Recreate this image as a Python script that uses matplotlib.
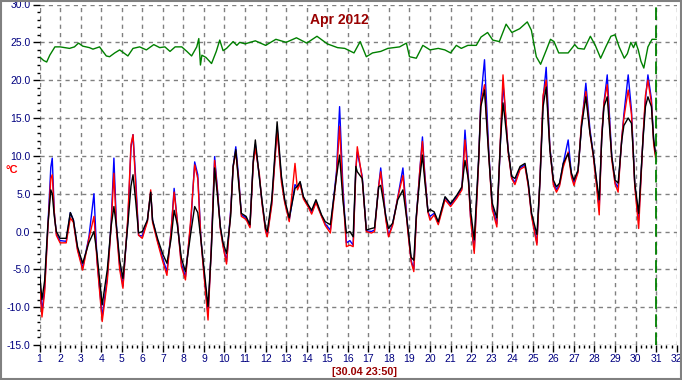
import numpy as np
import matplotlib
matplotlib.use("Agg")
import matplotlib.pyplot as plt
from matplotlib.ticker import MultipleLocator, FormatStrFormatter
from matplotlib.patches import Rectangle

plt.rcParams['font.family'] = ['Liberation Sans', 'DejaVu Sans']

# outdoor sensors: day of month (fractional) and readings in degC
t_out = [1.00, 1.12, 1.25, 1.40, 1.55, 1.62, 1.72, 1.82, 2.00, 2.30,
         2.50, 2.65, 2.85, 3.10, 3.40, 3.65, 3.80, 4.05, 4.30, 4.48,
         4.62, 4.75, 4.90, 5.06, 5.30, 5.45, 5.55, 5.68, 5.82, 6.00,
         6.25, 6.41, 6.50, 6.75, 7.00, 7.20, 7.40, 7.55, 7.70, 7.90,
         8.10, 8.37, 8.55, 8.70, 8.85, 8.96, 9.20, 9.36, 9.52, 9.65,
         9.80, 9.93, 10.10, 10.30, 10.42, 10.55, 10.70, 10.82, 11.05, 11.24,
         11.40, 11.50, 11.70, 11.82, 12.00, 12.08, 12.30, 12.56, 12.77, 12.93,
         13.15, 13.43, 13.55, 13.68, 13.84, 14.08, 14.24, 14.45, 14.72, 14.90,
         15.15, 15.45, 15.60, 15.76, 15.93, 16.10, 16.26, 16.39, 16.46, 16.70,
         16.90, 17.15, 17.30, 17.50, 17.60, 17.85, 17.98, 18.18, 18.43, 18.68,
         18.92, 19.08, 19.21, 19.33, 19.50, 19.63, 19.74, 19.90, 20.00, 20.20,
         20.40, 20.73, 21.00, 21.30, 21.55, 21.70, 21.87, 21.97, 22.15, 22.37,
         22.47, 22.65, 22.86, 23.02, 23.25, 23.43, 23.55, 23.63, 23.80, 23.97,
         24.13, 24.38, 24.62, 24.78, 24.94, 25.20, 25.35, 25.50, 25.65, 25.83,
         26.00, 26.15, 26.30, 26.48, 26.72, 26.88, 27.00, 27.20, 27.37, 27.58,
         27.78, 27.94, 28.10, 28.23, 28.35, 28.46, 28.62, 28.84, 29.00, 29.15,
         29.33, 29.43, 29.64, 29.80, 29.88, 29.96, 30.15, 30.36, 30.48, 30.60,
         30.77, 30.88, 30.97]

black = [-5.3, -9.0, -6.5, 0.6, 5.5, 5.0, 2.0, 0.0, -0.9, -0.9,
         2.5, 1.5, -2.0, -4.2, -1.5, 0.0, -3.0, -9.7, -5.0, 0.6,
         3.3, 0.5, -3.8, -6.2, 1.0, 6.0, 7.5, 4.0, -0.2, 0.0,
         1.5, 5.2, 1.5, -1.0, -3.0, -4.2, -1.0, 2.8, 1.0, -3.5,
         -5.3, 0.0, 3.3, 2.5, -1.0, -3.8, -9.9, -2.5, 8.4, 5.0,
         0.6, -1.5, -2.9, 2.0, 8.6, 10.8, 6.0, 2.4, 2.0, 0.9,
         9.4, 12.1, 7.0, 4.2, 0.4, 0.0, 4.2, 14.5, 7.3, 4.2,
         1.8, 5.7, 6.0, 6.6, 4.6, 3.5, 2.8, 4.2, 2.2, 1.3,
         0.9, 7.3, 10.1, 4.2, -0.2, 0.0, -0.7, 8.6, 7.9, 7.0,
         0.2, 0.4, 0.5, 5.9, 6.1, 2.0, 0.4, 1.1, 4.2, 5.5,
         0.6, -3.4, -3.8, 2.0, 7.0, 10.1, 6.8, 2.6, 2.9, 2.6,
         1.3, 4.6, 3.7, 4.8, 5.9, 9.4, 6.8, 2.8, -1.1, 9.9,
         16.5, 18.7, 9.8, 3.8, 1.8, 12.1, 17.0, 15.2, 10.8, 7.3,
         7.0, 8.6, 9.0, 6.4, 2.4, -0.4, 6.8, 16.5, 19.1, 10.8,
         6.8, 5.9, 6.4, 9.0, 10.3, 7.7, 6.8, 8.1, 13.9, 17.8,
         13.0, 10.3, 6.8, 4.2, 12.1, 16.5, 17.8, 9.9, 6.8, 6.4,
         12.1, 14.0, 15.0, 14.3, 10.8, 6.4, 2.4, 12.1, 16.5, 17.8,
         16.5, 12.1, 10.3]

red = [-6.6, -11.3, -8.0, 0.0, 7.0, 7.5, 2.5, -0.5, -1.5, -1.5,
       1.8, 1.2, -2.5, -5.1, -1.0, 2.0, -4.0, -11.9, -6.5, 0.5,
       7.7, 0.0, -5.0, -7.5, 2.0, 11.5, 12.8, 6.0, -0.5, -0.9,
       1.3, 5.5, 1.2, -1.5, -4.0, -5.8, 0.0, 5.2, 1.5, -4.6,
       -6.4, 2.0, 8.8, 7.0, -1.0, -4.5, -11.7, -2.0, 9.4, 5.5,
       0.3, -2.0, -4.3, 2.5, 8.5, 10.5, 6.5, 2.0, 1.6, 0.5,
       9.0, 11.0, 7.5, 3.8, 0.0, -0.7, 3.5, 13.4, 6.5, 3.8,
       1.3, 9.0, 5.5, 6.3, 4.3, 3.2, 2.3, 3.8, 2.0, 0.8,
       -0.2, 7.5, 13.9, 5.0, -2.0, -1.8, -2.0, 8.0, 11.2, 7.0,
       0.0, -0.2, 0.0, 6.0, 7.9, 1.5, -0.7, 0.8, 4.5, 7.4,
       0.0, -4.0, -5.3, 1.5, 8.0, 11.9, 7.5, 2.5, 1.5, 2.2,
       0.9, 4.2, 3.3, 4.4, 5.5, 12.1, 6.5, 1.8, -2.9, 9.5,
       17.0, 19.4, 10.0, 3.0, 0.6, 12.5, 20.7, 17.5, 10.5, 7.0,
       6.2, 8.2, 8.6, 6.0, 2.0, -1.8, 7.0, 18.0, 20.0, 11.0,
       6.2, 5.2, 6.0, 8.5, 10.5, 7.2, 6.1, 7.8, 14.5, 18.5,
       13.0, 10.0, 6.0, 2.2, 12.5, 17.0, 19.4, 9.5, 6.3, 5.2,
       12.5, 15.0, 18.7, 15.5, 10.5, 6.0, 0.4, 12.5, 18.0, 20.0,
       17.0, 11.5, 9.8]

blue = [-5.8, -10.6, -7.5, 0.3, 8.5, 9.7, 2.5, -0.3, -1.2, -1.3,
        2.5, 1.5, -2.3, -4.8, -0.8, 5.0, -3.8, -11.3, -6.0, 0.8,
        9.7, 0.5, -4.5, -7.2, 1.5, 11.0, 12.8, 7.0, -0.5, -0.6,
        1.5, 5.2, 1.5, -1.3, -3.6, -5.3, 0.0, 5.7, 1.5, -4.2,
        -6.0, 1.5, 9.2, 7.5, -0.8, -4.2, -11.0, -2.0, 9.9, 5.8,
        0.5, -1.8, -4.0, 2.8, 8.6, 11.2, 6.8, 2.2, 1.8, 0.7,
        9.2, 11.5, 7.2, 4.0, 0.2, -0.5, 3.8, 13.8, 7.0, 4.0,
        1.5, 6.2, 5.8, 6.5, 4.5, 3.3, 2.5, 4.0, 2.1, 1.0,
        0.2, 8.0, 16.5, 6.0, -1.5, -1.2, -1.8, 8.3, 10.5, 7.3,
        0.1, 0.0, 0.2, 6.0, 8.4, 1.8, -0.5, 1.0, 4.5, 8.4,
        0.3, -3.8, -5.0, 1.8, 8.0, 12.5, 7.8, 2.6, 2.0, 2.4,
        1.1, 4.5, 3.5, 4.6, 5.7, 13.4, 7.0, 2.0, -2.5, 9.8,
        17.5, 22.7, 10.5, 3.4, 1.0, 12.3, 19.5, 17.0, 10.8, 7.1,
        6.5, 8.4, 8.8, 6.2, 2.2, -1.5, 7.0, 17.5, 21.7, 11.2,
        6.5, 5.5, 6.2, 9.0, 12.1, 7.5, 6.4, 8.0, 14.0, 19.6,
        13.5, 10.3, 6.5, 3.0, 12.3, 17.0, 20.7, 10.0, 6.5, 5.8,
        12.3, 15.5, 20.7, 16.0, 11.0, 6.2, 1.5, 12.3, 17.5, 20.7,
        17.5, 12.0, 10.2]

# indoor sensor
t_in = [1.00, 1.20, 1.35, 1.50, 1.75, 2.00, 2.46, 2.70, 2.90, 3.10,
        3.43, 3.60, 3.92, 4.25, 4.41, 4.66, 4.90, 5.30, 5.55, 5.87,
        6.20, 6.56, 6.85, 7.10, 7.35, 7.60, 7.92, 8.17, 8.40, 8.65,
        8.75, 8.83, 8.90, 9.10, 9.37, 9.60, 9.77, 9.93, 10.10, 10.42,
        10.60, 10.74, 11.00, 11.50, 12.00, 12.50, 13.00, 13.50, 14.00, 14.50,
        15.00, 15.50, 15.85, 16.30, 16.60, 16.90, 17.20, 17.60, 17.95, 18.52,
        18.85, 19.00, 19.33, 19.65, 20.00, 20.40, 20.72, 21.00, 21.28, 21.52,
        21.84, 22.25, 22.48, 22.80, 23.05, 23.37, 23.70, 23.98, 24.36, 24.73,
        24.93, 25.17, 25.38, 25.66, 25.86, 26.03, 26.26, 26.72, 27.04, 27.20,
        27.50, 27.80, 28.04, 28.30, 28.55, 28.80, 29.00, 29.20, 29.45, 29.60,
        29.77, 29.90, 30.00, 30.13, 30.26, 30.40, 30.60, 30.80, 31.00]
green = [23.1, 22.6, 22.4, 23.3, 24.4, 24.4, 24.2, 24.4, 24.9, 24.5,
         24.3, 24.1, 24.4, 23.2, 23.1, 23.6, 24.0, 23.2, 24.2, 24.4,
         24.0, 24.7, 24.3, 24.4, 23.8, 24.4, 24.4, 23.8, 23.2, 24.4,
         25.5, 22.0, 23.3, 23.0, 22.2, 23.8, 25.3, 23.9, 24.2, 25.1,
         24.6, 25.0, 24.8, 25.2, 24.6, 25.4, 25.0, 25.6, 24.9, 25.8,
         24.8, 24.3, 24.2, 23.6, 25.1, 23.1, 23.6, 23.8, 24.2, 24.4,
         24.9, 23.1, 22.9, 24.6, 24.0, 24.2, 24.0, 23.6, 24.6, 24.2,
         24.6, 24.6, 25.7, 26.3, 25.3, 25.1, 27.4, 26.3, 26.8, 27.7,
         26.6, 23.1, 22.1, 24.0, 25.4, 25.1, 23.6, 23.6, 24.7, 24.2,
         24.1, 25.8, 24.6, 22.9, 24.4, 25.8, 26.0, 24.4, 22.9, 23.5,
         25.0, 24.3, 25.0, 24.0, 22.5, 21.6, 24.4, 25.4, 25.4]

now_marker = 31.0
day_ticks = list(range(1, 33))

fig = plt.figure(figsize=(6.82, 3.80), dpi=100)
fig.patches.append(Rectangle((0.001, 0.002), 0.997, 0.996, transform=fig.transFigure,
                             fill=False, edgecolor='#808080', linewidth=1.5))
ax = fig.add_axes([39.5 / 682, 1 - 345 / 380, 637.2 / 682, 340.5 / 380])

ax.plot(t_in, green, color='#008000', lw=1.0)
ax.plot(t_out, blue, color='#0000ff', lw=1.0)
ax.plot(t_out, red, color='#ff0000', lw=1.0)
ax.plot(t_out, black, color='black', lw=1.0)
ax.axvline(now_marker, color='#008000', lw=1.3, dashes=(7, 3))

ax.set_xlim(1, 32)
ax.set_ylim(-15, 30)
ax.set_xticks(day_ticks)
ax.xaxis.set_minor_locator(MultipleLocator(0.25))
ax.yaxis.set_major_locator(MultipleLocator(5))
ax.yaxis.set_minor_locator(MultipleLocator(1))
ax.yaxis.set_major_formatter(FormatStrFormatter('%.1f'))

for s in ax.spines.values():
    s.set_visible(False)
ax.grid(True, which='major', color='#808080', lw=1.0, dashes=(3, 3))
ax.tick_params(which='major', length=5, width=1, color='black', labelsize=7.5,
               labelcolor='#000080', pad=1.5)
ax.tick_params(which='minor', length=2.5, width=1, color='black')

ax.text(0.47, 0.975, 'Apr 2012', transform=ax.transAxes, ha='center', va='top',
        color='#990000', fontsize=10, fontweight='bold')
fig.text(12 / 682, 1 - 170 / 380, '°C', color='#ff0000', fontsize=8, fontweight='bold',
         ha='center', va='center')
fig.text(365 / 682, 1 - 372 / 380, '[30.04 23:50]', color='#990000', fontsize=7.8,
         fontweight='bold', ha='center', va='center')

fig.savefig('out.png', dpi=100)
